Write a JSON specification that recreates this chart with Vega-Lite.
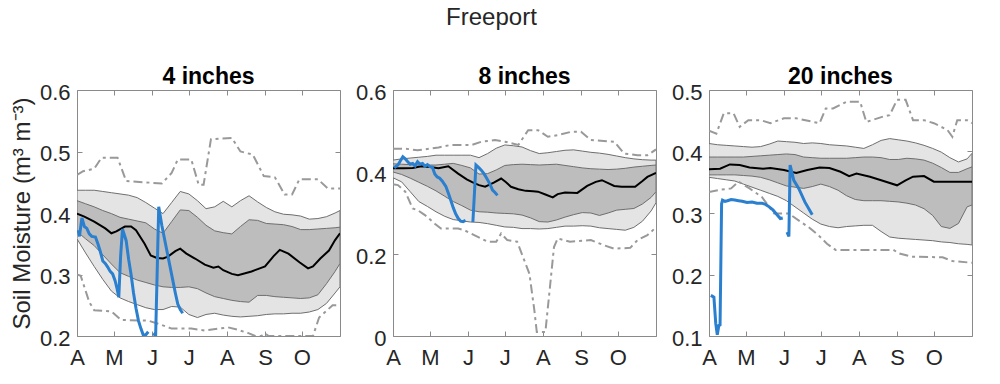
{
  "$schema": "https://vega.github.io/schema/vega-lite/v6.json",
  "padding": {"left": 9, "top": 5, "right": 5, "bottom": 5},
  "title": {"text": "Freeport", "fontSize": 24, "fontWeight": "normal", "color": "#262626", "anchor": "middle", "offset": 36},
  "bounds": "flush",
  "spacing": 53,
  "datasets": {
    "bands": [
      {"depth":4,"band":"outer","date":"2023-04-01","lo":0.358,"hi":0.437},
      {"depth":4,"band":"outer","date":"2023-04-08","lo":0.335,"hi":0.437},
      {"depth":4,"band":"outer","date":"2023-04-15","lo":0.313,"hi":0.437},
      {"depth":4,"band":"outer","date":"2023-04-22","lo":0.292,"hi":0.435},
      {"depth":4,"band":"outer","date":"2023-04-29","lo":0.273,"hi":0.433},
      {"depth":4,"band":"outer","date":"2023-05-06","lo":0.262,"hi":0.431},
      {"depth":4,"band":"outer","date":"2023-05-13","lo":0.256,"hi":0.429},
      {"depth":4,"band":"outer","date":"2023-05-20","lo":0.251,"hi":0.425},
      {"depth":4,"band":"outer","date":"2023-05-27","lo":0.246,"hi":0.417},
      {"depth":4,"band":"outer","date":"2023-06-03","lo":0.243,"hi":0.408},
      {"depth":4,"band":"outer","date":"2023-06-10","lo":0.243,"hi":0.399},
      {"depth":4,"band":"outer","date":"2023-06-17","lo":0.248,"hi":0.417},
      {"depth":4,"band":"outer","date":"2023-06-24","lo":0.247,"hi":0.435},
      {"depth":4,"band":"outer","date":"2023-07-01","lo":0.235,"hi":0.431},
      {"depth":4,"band":"outer","date":"2023-07-08","lo":0.230,"hi":0.420},
      {"depth":4,"band":"outer","date":"2023-07-15","lo":0.235,"hi":0.407},
      {"depth":4,"band":"outer","date":"2023-07-22","lo":0.237,"hi":0.410},
      {"depth":4,"band":"outer","date":"2023-07-29","lo":0.234,"hi":0.419},
      {"depth":4,"band":"outer","date":"2023-08-05","lo":0.232,"hi":0.410},
      {"depth":4,"band":"outer","date":"2023-08-12","lo":0.231,"hi":0.420},
      {"depth":4,"band":"outer","date":"2023-08-19","lo":0.232,"hi":0.428},
      {"depth":4,"band":"outer","date":"2023-08-26","lo":0.233,"hi":0.418},
      {"depth":4,"band":"outer","date":"2023-09-02","lo":0.235,"hi":0.409},
      {"depth":4,"band":"outer","date":"2023-09-09","lo":0.236,"hi":0.402},
      {"depth":4,"band":"outer","date":"2023-09-16","lo":0.236,"hi":0.398},
      {"depth":4,"band":"outer","date":"2023-09-23","lo":0.237,"hi":0.397},
      {"depth":4,"band":"outer","date":"2023-09-30","lo":0.237,"hi":0.395},
      {"depth":4,"band":"outer","date":"2023-10-07","lo":0.239,"hi":0.390},
      {"depth":4,"band":"outer","date":"2023-10-14","lo":0.243,"hi":0.391},
      {"depth":4,"band":"outer","date":"2023-10-21","lo":0.253,"hi":0.394},
      {"depth":4,"band":"outer","date":"2023-10-28","lo":0.270,"hi":0.400},
      {"depth":4,"band":"outer","date":"2023-11-01","lo":0.280,"hi":0.404},
      {"depth":4,"band":"inner","date":"2023-04-01","lo":0.370,"hi":0.420},
      {"depth":4,"band":"inner","date":"2023-04-08","lo":0.358,"hi":0.415},
      {"depth":4,"band":"inner","date":"2023-04-15","lo":0.347,"hi":0.410},
      {"depth":4,"band":"inner","date":"2023-04-22","lo":0.332,"hi":0.404},
      {"depth":4,"band":"inner","date":"2023-04-29","lo":0.317,"hi":0.399},
      {"depth":4,"band":"inner","date":"2023-05-06","lo":0.303,"hi":0.393},
      {"depth":4,"band":"inner","date":"2023-05-13","lo":0.297,"hi":0.390},
      {"depth":4,"band":"inner","date":"2023-05-20","lo":0.291,"hi":0.387},
      {"depth":4,"band":"inner","date":"2023-05-27","lo":0.287,"hi":0.384},
      {"depth":4,"band":"inner","date":"2023-06-03","lo":0.283,"hi":0.374},
      {"depth":4,"band":"inner","date":"2023-06-10","lo":0.280,"hi":0.367},
      {"depth":4,"band":"inner","date":"2023-06-17","lo":0.279,"hi":0.386},
      {"depth":4,"band":"inner","date":"2023-06-24","lo":0.279,"hi":0.405},
      {"depth":4,"band":"inner","date":"2023-07-01","lo":0.280,"hi":0.404},
      {"depth":4,"band":"inner","date":"2023-07-08","lo":0.277,"hi":0.393},
      {"depth":4,"band":"inner","date":"2023-07-15","lo":0.270,"hi":0.380},
      {"depth":4,"band":"inner","date":"2023-07-22","lo":0.264,"hi":0.371},
      {"depth":4,"band":"inner","date":"2023-07-29","lo":0.261,"hi":0.368},
      {"depth":4,"band":"inner","date":"2023-08-05","lo":0.258,"hi":0.366},
      {"depth":4,"band":"inner","date":"2023-08-12","lo":0.256,"hi":0.378},
      {"depth":4,"band":"inner","date":"2023-08-19","lo":0.255,"hi":0.389},
      {"depth":4,"band":"inner","date":"2023-08-26","lo":0.266,"hi":0.388},
      {"depth":4,"band":"inner","date":"2023-09-02","lo":0.266,"hi":0.383},
      {"depth":4,"band":"inner","date":"2023-09-09","lo":0.264,"hi":0.382},
      {"depth":4,"band":"inner","date":"2023-09-16","lo":0.263,"hi":0.381},
      {"depth":4,"band":"inner","date":"2023-09-23","lo":0.262,"hi":0.378},
      {"depth":4,"band":"inner","date":"2023-09-30","lo":0.261,"hi":0.373},
      {"depth":4,"band":"inner","date":"2023-10-07","lo":0.262,"hi":0.373},
      {"depth":4,"band":"inner","date":"2023-10-14","lo":0.267,"hi":0.374},
      {"depth":4,"band":"inner","date":"2023-10-21","lo":0.285,"hi":0.375},
      {"depth":4,"band":"inner","date":"2023-10-28","lo":0.305,"hi":0.376},
      {"depth":4,"band":"inner","date":"2023-11-01","lo":0.318,"hi":0.377},
      {"depth":8,"band":"outer","date":"2023-04-01","lo":0.386,"hi":0.429},
      {"depth":8,"band":"outer","date":"2023-04-08","lo":0.376,"hi":0.432},
      {"depth":8,"band":"outer","date":"2023-04-15","lo":0.352,"hi":0.434},
      {"depth":8,"band":"outer","date":"2023-04-22","lo":0.328,"hi":0.436},
      {"depth":8,"band":"outer","date":"2023-04-29","lo":0.316,"hi":0.438},
      {"depth":8,"band":"outer","date":"2023-05-06","lo":0.303,"hi":0.441},
      {"depth":8,"band":"outer","date":"2023-05-13","lo":0.292,"hi":0.441},
      {"depth":8,"band":"outer","date":"2023-05-20","lo":0.284,"hi":0.441},
      {"depth":8,"band":"outer","date":"2023-05-27","lo":0.281,"hi":0.441},
      {"depth":8,"band":"outer","date":"2023-06-03","lo":0.278,"hi":0.441},
      {"depth":8,"band":"outer","date":"2023-06-10","lo":0.277,"hi":0.435},
      {"depth":8,"band":"outer","date":"2023-06-17","lo":0.274,"hi":0.445},
      {"depth":8,"band":"outer","date":"2023-06-24","lo":0.270,"hi":0.458},
      {"depth":8,"band":"outer","date":"2023-07-01","lo":0.266,"hi":0.466},
      {"depth":8,"band":"outer","date":"2023-07-08","lo":0.265,"hi":0.464},
      {"depth":8,"band":"outer","date":"2023-07-15","lo":0.262,"hi":0.461},
      {"depth":8,"band":"outer","date":"2023-07-22","lo":0.262,"hi":0.452},
      {"depth":8,"band":"outer","date":"2023-07-29","lo":0.261,"hi":0.445},
      {"depth":8,"band":"outer","date":"2023-08-05","lo":0.262,"hi":0.447},
      {"depth":8,"band":"outer","date":"2023-08-12","lo":0.265,"hi":0.450},
      {"depth":8,"band":"outer","date":"2023-08-19","lo":0.268,"hi":0.453},
      {"depth":8,"band":"outer","date":"2023-08-26","lo":0.268,"hi":0.454},
      {"depth":8,"band":"outer","date":"2023-09-02","lo":0.269,"hi":0.451},
      {"depth":8,"band":"outer","date":"2023-09-09","lo":0.268,"hi":0.448},
      {"depth":8,"band":"outer","date":"2023-09-16","lo":0.264,"hi":0.446},
      {"depth":8,"band":"outer","date":"2023-09-23","lo":0.262,"hi":0.443},
      {"depth":8,"band":"outer","date":"2023-09-30","lo":0.260,"hi":0.439},
      {"depth":8,"band":"outer","date":"2023-10-07","lo":0.258,"hi":0.435},
      {"depth":8,"band":"outer","date":"2023-10-14","lo":0.265,"hi":0.432},
      {"depth":8,"band":"outer","date":"2023-10-21","lo":0.280,"hi":0.430},
      {"depth":8,"band":"outer","date":"2023-10-28","lo":0.305,"hi":0.429},
      {"depth":8,"band":"outer","date":"2023-11-01","lo":0.325,"hi":0.429},
      {"depth":8,"band":"inner","date":"2023-04-01","lo":0.400,"hi":0.420},
      {"depth":8,"band":"inner","date":"2023-04-08","lo":0.394,"hi":0.419},
      {"depth":8,"band":"inner","date":"2023-04-15","lo":0.385,"hi":0.418},
      {"depth":8,"band":"inner","date":"2023-04-22","lo":0.375,"hi":0.417},
      {"depth":8,"band":"inner","date":"2023-04-29","lo":0.365,"hi":0.417},
      {"depth":8,"band":"inner","date":"2023-05-06","lo":0.354,"hi":0.417},
      {"depth":8,"band":"inner","date":"2023-05-13","lo":0.341,"hi":0.419},
      {"depth":8,"band":"inner","date":"2023-05-20","lo":0.328,"hi":0.421},
      {"depth":8,"band":"inner","date":"2023-05-27","lo":0.318,"hi":0.416},
      {"depth":8,"band":"inner","date":"2023-06-03","lo":0.307,"hi":0.410},
      {"depth":8,"band":"inner","date":"2023-06-10","lo":0.303,"hi":0.395},
      {"depth":8,"band":"inner","date":"2023-06-17","lo":0.302,"hi":0.396},
      {"depth":8,"band":"inner","date":"2023-06-24","lo":0.300,"hi":0.405},
      {"depth":8,"band":"inner","date":"2023-07-01","lo":0.299,"hi":0.416},
      {"depth":8,"band":"inner","date":"2023-07-08","lo":0.298,"hi":0.418},
      {"depth":8,"band":"inner","date":"2023-07-15","lo":0.295,"hi":0.419},
      {"depth":8,"band":"inner","date":"2023-07-22","lo":0.288,"hi":0.418},
      {"depth":8,"band":"inner","date":"2023-07-29","lo":0.279,"hi":0.417},
      {"depth":8,"band":"inner","date":"2023-08-05","lo":0.278,"hi":0.418},
      {"depth":8,"band":"inner","date":"2023-08-12","lo":0.283,"hi":0.419},
      {"depth":8,"band":"inner","date":"2023-08-19","lo":0.290,"hi":0.416},
      {"depth":8,"band":"inner","date":"2023-08-26","lo":0.296,"hi":0.413},
      {"depth":8,"band":"inner","date":"2023-09-02","lo":0.301,"hi":0.410},
      {"depth":8,"band":"inner","date":"2023-09-09","lo":0.300,"hi":0.408},
      {"depth":8,"band":"inner","date":"2023-09-16","lo":0.294,"hi":0.407},
      {"depth":8,"band":"inner","date":"2023-09-23","lo":0.300,"hi":0.406},
      {"depth":8,"band":"inner","date":"2023-09-30","lo":0.307,"hi":0.407},
      {"depth":8,"band":"inner","date":"2023-10-07","lo":0.309,"hi":0.409},
      {"depth":8,"band":"inner","date":"2023-10-14","lo":0.311,"hi":0.412},
      {"depth":8,"band":"inner","date":"2023-10-21","lo":0.322,"hi":0.414},
      {"depth":8,"band":"inner","date":"2023-10-28","lo":0.338,"hi":0.416},
      {"depth":8,"band":"inner","date":"2023-11-01","lo":0.352,"hi":0.417},
      {"depth":20,"band":"outer","date":"2023-04-01","lo":0.358,"hi":0.413},
      {"depth":20,"band":"outer","date":"2023-04-08","lo":0.356,"hi":0.411},
      {"depth":20,"band":"outer","date":"2023-04-15","lo":0.354,"hi":0.410},
      {"depth":20,"band":"outer","date":"2023-04-22","lo":0.352,"hi":0.409},
      {"depth":20,"band":"outer","date":"2023-04-29","lo":0.347,"hi":0.408},
      {"depth":20,"band":"outer","date":"2023-05-06","lo":0.342,"hi":0.407},
      {"depth":20,"band":"outer","date":"2023-05-13","lo":0.337,"hi":0.408},
      {"depth":20,"band":"outer","date":"2023-05-20","lo":0.332,"hi":0.412},
      {"depth":20,"band":"outer","date":"2023-05-27","lo":0.327,"hi":0.417},
      {"depth":20,"band":"outer","date":"2023-06-03","lo":0.320,"hi":0.416},
      {"depth":20,"band":"outer","date":"2023-06-10","lo":0.310,"hi":0.415},
      {"depth":20,"band":"outer","date":"2023-06-17","lo":0.300,"hi":0.413},
      {"depth":20,"band":"outer","date":"2023-06-24","lo":0.290,"hi":0.414},
      {"depth":20,"band":"outer","date":"2023-07-01","lo":0.282,"hi":0.413},
      {"depth":20,"band":"outer","date":"2023-07-08","lo":0.278,"hi":0.411},
      {"depth":20,"band":"outer","date":"2023-07-15","lo":0.276,"hi":0.410},
      {"depth":20,"band":"outer","date":"2023-07-22","lo":0.278,"hi":0.409},
      {"depth":20,"band":"outer","date":"2023-07-29","lo":0.279,"hi":0.407},
      {"depth":20,"band":"outer","date":"2023-08-05","lo":0.280,"hi":0.405},
      {"depth":20,"band":"outer","date":"2023-08-12","lo":0.280,"hi":0.411},
      {"depth":20,"band":"outer","date":"2023-08-19","lo":0.270,"hi":0.418},
      {"depth":20,"band":"outer","date":"2023-08-26","lo":0.261,"hi":0.421},
      {"depth":20,"band":"outer","date":"2023-09-02","lo":0.259,"hi":0.419},
      {"depth":20,"band":"outer","date":"2023-09-09","lo":0.258,"hi":0.417},
      {"depth":20,"band":"outer","date":"2023-09-16","lo":0.257,"hi":0.414},
      {"depth":20,"band":"outer","date":"2023-09-23","lo":0.256,"hi":0.410},
      {"depth":20,"band":"outer","date":"2023-09-30","lo":0.255,"hi":0.405},
      {"depth":20,"band":"outer","date":"2023-10-07","lo":0.253,"hi":0.399},
      {"depth":20,"band":"outer","date":"2023-10-14","lo":0.252,"hi":0.390},
      {"depth":20,"band":"outer","date":"2023-10-21","lo":0.250,"hi":0.383},
      {"depth":20,"band":"outer","date":"2023-10-28","lo":0.249,"hi":0.388},
      {"depth":20,"band":"outer","date":"2023-11-01","lo":0.248,"hi":0.397},
      {"depth":20,"band":"inner","date":"2023-04-01","lo":0.362,"hi":0.391},
      {"depth":20,"band":"inner","date":"2023-04-08","lo":0.362,"hi":0.391},
      {"depth":20,"band":"inner","date":"2023-04-15","lo":0.362,"hi":0.391},
      {"depth":20,"band":"inner","date":"2023-04-22","lo":0.362,"hi":0.391},
      {"depth":20,"band":"inner","date":"2023-04-29","lo":0.361,"hi":0.391},
      {"depth":20,"band":"inner","date":"2023-05-06","lo":0.360,"hi":0.392},
      {"depth":20,"band":"inner","date":"2023-05-13","lo":0.358,"hi":0.393},
      {"depth":20,"band":"inner","date":"2023-05-20","lo":0.354,"hi":0.394},
      {"depth":20,"band":"inner","date":"2023-05-27","lo":0.349,"hi":0.395},
      {"depth":20,"band":"inner","date":"2023-06-03","lo":0.344,"hi":0.396},
      {"depth":20,"band":"inner","date":"2023-06-10","lo":0.342,"hi":0.395},
      {"depth":20,"band":"inner","date":"2023-06-17","lo":0.340,"hi":0.391},
      {"depth":20,"band":"inner","date":"2023-06-24","lo":0.343,"hi":0.390},
      {"depth":20,"band":"inner","date":"2023-07-01","lo":0.347,"hi":0.389},
      {"depth":20,"band":"inner","date":"2023-07-08","lo":0.343,"hi":0.389},
      {"depth":20,"band":"inner","date":"2023-07-15","lo":0.337,"hi":0.389},
      {"depth":20,"band":"inner","date":"2023-07-22","lo":0.328,"hi":0.389},
      {"depth":20,"band":"inner","date":"2023-07-29","lo":0.322,"hi":0.390},
      {"depth":20,"band":"inner","date":"2023-08-05","lo":0.320,"hi":0.391},
      {"depth":20,"band":"inner","date":"2023-08-12","lo":0.320,"hi":0.391},
      {"depth":20,"band":"inner","date":"2023-08-19","lo":0.320,"hi":0.390},
      {"depth":20,"band":"inner","date":"2023-08-26","lo":0.319,"hi":0.387},
      {"depth":20,"band":"inner","date":"2023-09-02","lo":0.318,"hi":0.387},
      {"depth":20,"band":"inner","date":"2023-09-09","lo":0.316,"hi":0.389},
      {"depth":20,"band":"inner","date":"2023-09-16","lo":0.313,"hi":0.388},
      {"depth":20,"band":"inner","date":"2023-09-23","lo":0.307,"hi":0.386},
      {"depth":20,"band":"inner","date":"2023-09-30","lo":0.296,"hi":0.381},
      {"depth":20,"band":"inner","date":"2023-10-07","lo":0.278,"hi":0.374},
      {"depth":20,"band":"inner","date":"2023-10-14","lo":0.275,"hi":0.366},
      {"depth":20,"band":"inner","date":"2023-10-21","lo":0.283,"hi":0.366},
      {"depth":20,"band":"inner","date":"2023-10-28","lo":0.310,"hi":0.372},
      {"depth":20,"band":"inner","date":"2023-11-01","lo":0.313,"hi":0.375}
    ],
    "lines": [
      {"depth":4,"series":"median","date":"2023-04-01","value":0.399},
      {"depth":4,"series":"median","date":"2023-04-07","value":0.394},
      {"depth":4,"series":"median","date":"2023-04-15","value":0.386},
      {"depth":4,"series":"median","date":"2023-04-24","value":0.375},
      {"depth":4,"series":"median","date":"2023-04-29","value":0.367},
      {"depth":4,"series":"median","date":"2023-05-03","value":0.370},
      {"depth":4,"series":"median","date":"2023-05-10","value":0.378},
      {"depth":4,"series":"median","date":"2023-05-15","value":0.378},
      {"depth":4,"series":"median","date":"2023-05-19","value":0.372},
      {"depth":4,"series":"median","date":"2023-05-26","value":0.350},
      {"depth":4,"series":"median","date":"2023-05-31","value":0.331},
      {"depth":4,"series":"median","date":"2023-06-05","value":0.327},
      {"depth":4,"series":"median","date":"2023-06-10","value":0.326},
      {"depth":4,"series":"median","date":"2023-06-14","value":0.329},
      {"depth":4,"series":"median","date":"2023-06-20","value":0.338},
      {"depth":4,"series":"median","date":"2023-06-24","value":0.342},
      {"depth":4,"series":"median","date":"2023-06-29","value":0.334},
      {"depth":4,"series":"median","date":"2023-07-06","value":0.326},
      {"depth":4,"series":"median","date":"2023-07-14","value":0.316},
      {"depth":4,"series":"median","date":"2023-07-21","value":0.311},
      {"depth":4,"series":"median","date":"2023-07-25","value":0.313},
      {"depth":4,"series":"median","date":"2023-07-29","value":0.307},
      {"depth":4,"series":"median","date":"2023-08-05","value":0.301},
      {"depth":4,"series":"median","date":"2023-08-10","value":0.299},
      {"depth":4,"series":"median","date":"2023-08-21","value":0.305},
      {"depth":4,"series":"median","date":"2023-09-01","value":0.313},
      {"depth":4,"series":"median","date":"2023-09-08","value":0.330},
      {"depth":4,"series":"median","date":"2023-09-13","value":0.340},
      {"depth":4,"series":"median","date":"2023-09-20","value":0.334},
      {"depth":4,"series":"median","date":"2023-09-29","value":0.320},
      {"depth":4,"series":"median","date":"2023-10-06","value":0.310},
      {"depth":4,"series":"median","date":"2023-10-10","value":0.313},
      {"depth":4,"series":"median","date":"2023-10-16","value":0.326},
      {"depth":4,"series":"median","date":"2023-10-23","value":0.339},
      {"depth":4,"series":"median","date":"2023-10-28","value":0.356},
      {"depth":4,"series":"median","date":"2023-11-01","value":0.367},
      {"depth":4,"series":"max","date":"2023-04-01","value":0.462},
      {"depth":4,"series":"max","date":"2023-04-06","value":0.468},
      {"depth":4,"series":"max","date":"2023-04-15","value":0.472},
      {"depth":4,"series":"max","date":"2023-04-21","value":0.490},
      {"depth":4,"series":"max","date":"2023-05-04","value":0.490},
      {"depth":4,"series":"max","date":"2023-05-11","value":0.452},
      {"depth":4,"series":"max","date":"2023-06-09","value":0.448},
      {"depth":4,"series":"max","date":"2023-06-17","value":0.465},
      {"depth":4,"series":"max","date":"2023-06-22","value":0.487},
      {"depth":4,"series":"max","date":"2023-07-03","value":0.487},
      {"depth":4,"series":"max","date":"2023-07-09","value":0.446},
      {"depth":4,"series":"max","date":"2023-07-13","value":0.446},
      {"depth":4,"series":"max","date":"2023-07-19","value":0.520},
      {"depth":4,"series":"max","date":"2023-08-05","value":0.522},
      {"depth":4,"series":"max","date":"2023-08-12","value":0.500},
      {"depth":4,"series":"max","date":"2023-08-22","value":0.495},
      {"depth":4,"series":"max","date":"2023-08-31","value":0.460},
      {"depth":4,"series":"max","date":"2023-09-09","value":0.458},
      {"depth":4,"series":"max","date":"2023-09-17","value":0.430},
      {"depth":4,"series":"max","date":"2023-09-23","value":0.430},
      {"depth":4,"series":"max","date":"2023-09-29","value":0.455},
      {"depth":4,"series":"max","date":"2023-10-14","value":0.455},
      {"depth":4,"series":"max","date":"2023-10-22","value":0.440},
      {"depth":4,"series":"max","date":"2023-11-01","value":0.440},
      {"depth":4,"series":"min","date":"2023-04-01","value":0.300},
      {"depth":4,"series":"min","date":"2023-04-04","value":0.298},
      {"depth":4,"series":"min","date":"2023-04-11","value":0.255},
      {"depth":4,"series":"min","date":"2023-04-15","value":0.242},
      {"depth":4,"series":"min","date":"2023-04-29","value":0.240},
      {"depth":4,"series":"min","date":"2023-05-07","value":0.226},
      {"depth":4,"series":"min","date":"2023-05-29","value":0.225},
      {"depth":4,"series":"min","date":"2023-06-06","value":0.220},
      {"depth":4,"series":"min","date":"2023-06-17","value":0.212},
      {"depth":4,"series":"min","date":"2023-07-03","value":0.212},
      {"depth":4,"series":"min","date":"2023-07-14","value":0.209},
      {"depth":4,"series":"min","date":"2023-08-02","value":0.214},
      {"depth":4,"series":"min","date":"2023-08-10","value":0.210},
      {"depth":4,"series":"min","date":"2023-08-18","value":0.205},
      {"depth":4,"series":"min","date":"2023-08-24","value":0.200},
      {"depth":4,"series":"min","date":"2023-08-29","value":0.200},
      {"depth":4,"series":"min","date":"2023-09-01","value":0.204},
      {"depth":4,"series":"min","date":"2023-09-04","value":0.200},
      {"depth":4,"series":"min","date":"2023-10-10","value":0.200},
      {"depth":4,"series":"min","date":"2023-10-15","value":0.230},
      {"depth":4,"series":"min","date":"2023-10-26","value":0.250},
      {"depth":4,"series":"min","date":"2023-11-01","value":0.250},
      {"depth":4,"series":"current","seg":1,"date":"2023-04-02","value":0.372},
      {"depth":4,"series":"current","seg":1,"date":"2023-04-03","value":0.362},
      {"depth":4,"series":"current","seg":1,"date":"2023-04-05","value":0.392},
      {"depth":4,"series":"current","seg":1,"date":"2023-04-07","value":0.378},
      {"depth":4,"series":"current","seg":1,"date":"2023-04-09","value":0.375},
      {"depth":4,"series":"current","seg":1,"date":"2023-04-11","value":0.366},
      {"depth":4,"series":"current","seg":1,"date":"2023-04-13","value":0.362},
      {"depth":4,"series":"current","seg":1,"date":"2023-04-16","value":0.361},
      {"depth":4,"series":"current","seg":1,"date":"2023-04-18","value":0.350},
      {"depth":4,"series":"current","seg":1,"date":"2023-04-20","value":0.337},
      {"depth":4,"series":"current","seg":1,"date":"2023-04-22","value":0.322},
      {"depth":4,"series":"current","seg":1,"date":"2023-04-24","value":0.318},
      {"depth":4,"series":"current","seg":1,"date":"2023-04-26","value":0.312},
      {"depth":4,"series":"current","seg":1,"date":"2023-04-28","value":0.305},
      {"depth":4,"series":"current","seg":1,"date":"2023-04-30","value":0.301},
      {"depth":4,"series":"current","seg":1,"date":"2023-05-02","value":0.290},
      {"depth":4,"series":"current","seg":1,"date":"2023-05-03T12:00Z","value":0.278},
      {"depth":4,"series":"current","seg":1,"date":"2023-05-05","value":0.263},
      {"depth":4,"series":"current","seg":1,"date":"2023-05-06T12:00Z","value":0.330},
      {"depth":4,"series":"current","seg":1,"date":"2023-05-08","value":0.374},
      {"depth":4,"series":"current","seg":1,"date":"2023-05-11","value":0.355},
      {"depth":4,"series":"current","seg":1,"date":"2023-05-13","value":0.325},
      {"depth":4,"series":"current","seg":1,"date":"2023-05-15","value":0.300},
      {"depth":4,"series":"current","seg":1,"date":"2023-05-17","value":0.270},
      {"depth":4,"series":"current","seg":1,"date":"2023-05-19","value":0.245},
      {"depth":4,"series":"current","seg":1,"date":"2023-05-21","value":0.225},
      {"depth":4,"series":"current","seg":1,"date":"2023-05-23","value":0.212},
      {"depth":4,"series":"current","seg":1,"date":"2023-05-25","value":0.201},
      {"depth":4,"series":"current","seg":1,"date":"2023-05-27","value":0.202},
      {"depth":4,"series":"current","seg":1,"date":"2023-05-29","value":0.207},
      {"depth":4,"series":"current","seg":2,"date":"2023-06-02","value":0.204},
      {"depth":4,"series":"current","seg":2,"date":"2023-06-04","value":0.201},
      {"depth":4,"series":"current","seg":2,"date":"2023-06-06T12:00Z","value":0.410},
      {"depth":4,"series":"current","seg":2,"date":"2023-06-09","value":0.380},
      {"depth":4,"series":"current","seg":2,"date":"2023-06-12","value":0.350},
      {"depth":4,"series":"current","seg":2,"date":"2023-06-15","value":0.320},
      {"depth":4,"series":"current","seg":2,"date":"2023-06-18","value":0.290},
      {"depth":4,"series":"current","seg":2,"date":"2023-06-20","value":0.270},
      {"depth":4,"series":"current","seg":2,"date":"2023-06-22","value":0.252},
      {"depth":4,"series":"current","seg":2,"date":"2023-06-24","value":0.243},
      {"depth":4,"series":"current","seg":2,"date":"2023-06-26","value":0.237},
      {"depth":8,"series":"median","date":"2023-04-01","value":0.409},
      {"depth":8,"series":"median","date":"2023-04-10","value":0.409},
      {"depth":8,"series":"median","date":"2023-04-17","value":0.410},
      {"depth":8,"series":"median","date":"2023-04-24","value":0.414},
      {"depth":8,"series":"median","date":"2023-05-01","value":0.412},
      {"depth":8,"series":"median","date":"2023-05-08","value":0.409},
      {"depth":8,"series":"median","date":"2023-05-16","value":0.414},
      {"depth":8,"series":"median","date":"2023-05-24","value":0.396},
      {"depth":8,"series":"median","date":"2023-05-31","value":0.382},
      {"depth":8,"series":"median","date":"2023-06-04","value":0.376},
      {"depth":8,"series":"median","date":"2023-06-10","value":0.368},
      {"depth":8,"series":"median","date":"2023-06-15","value":0.364},
      {"depth":8,"series":"median","date":"2023-06-22","value":0.374},
      {"depth":8,"series":"median","date":"2023-06-28","value":0.384},
      {"depth":8,"series":"median","date":"2023-07-02","value":0.375},
      {"depth":8,"series":"median","date":"2023-07-06","value":0.364},
      {"depth":8,"series":"median","date":"2023-07-12","value":0.358},
      {"depth":8,"series":"median","date":"2023-07-18","value":0.354},
      {"depth":8,"series":"median","date":"2023-07-24","value":0.353},
      {"depth":8,"series":"median","date":"2023-07-28","value":0.352},
      {"depth":8,"series":"median","date":"2023-08-03","value":0.345},
      {"depth":8,"series":"median","date":"2023-08-09","value":0.338},
      {"depth":8,"series":"median","date":"2023-08-13","value":0.346},
      {"depth":8,"series":"median","date":"2023-08-19","value":0.350},
      {"depth":8,"series":"median","date":"2023-08-29","value":0.349},
      {"depth":8,"series":"median","date":"2023-09-06","value":0.366},
      {"depth":8,"series":"median","date":"2023-09-13","value":0.376},
      {"depth":8,"series":"median","date":"2023-09-18","value":0.380},
      {"depth":8,"series":"median","date":"2023-09-28","value":0.366},
      {"depth":8,"series":"median","date":"2023-10-04","value":0.364},
      {"depth":8,"series":"median","date":"2023-10-15","value":0.364},
      {"depth":8,"series":"median","date":"2023-10-21","value":0.378},
      {"depth":8,"series":"median","date":"2023-10-25","value":0.388},
      {"depth":8,"series":"median","date":"2023-11-01","value":0.398},
      {"depth":8,"series":"max","date":"2023-04-01","value":0.457},
      {"depth":8,"series":"max","date":"2023-04-11","value":0.457},
      {"depth":8,"series":"max","date":"2023-04-21","value":0.453},
      {"depth":8,"series":"max","date":"2023-05-08","value":0.460},
      {"depth":8,"series":"max","date":"2023-05-18","value":0.466},
      {"depth":8,"series":"max","date":"2023-06-04","value":0.466},
      {"depth":8,"series":"max","date":"2023-06-12","value":0.474},
      {"depth":8,"series":"max","date":"2023-06-23","value":0.478},
      {"depth":8,"series":"max","date":"2023-07-01","value":0.474},
      {"depth":8,"series":"max","date":"2023-07-12","value":0.466},
      {"depth":8,"series":"max","date":"2023-07-20","value":0.502},
      {"depth":8,"series":"max","date":"2023-07-28","value":0.502},
      {"depth":8,"series":"max","date":"2023-08-05","value":0.486},
      {"depth":8,"series":"max","date":"2023-08-13","value":0.490},
      {"depth":8,"series":"max","date":"2023-08-24","value":0.498},
      {"depth":8,"series":"max","date":"2023-09-01","value":0.498},
      {"depth":8,"series":"max","date":"2023-09-09","value":0.478},
      {"depth":8,"series":"max","date":"2023-09-28","value":0.474},
      {"depth":8,"series":"max","date":"2023-10-06","value":0.445},
      {"depth":8,"series":"max","date":"2023-10-17","value":0.441},
      {"depth":8,"series":"max","date":"2023-10-25","value":0.441},
      {"depth":8,"series":"max","date":"2023-11-01","value":0.455},
      {"depth":8,"series":"min","date":"2023-04-01","value":0.370},
      {"depth":8,"series":"min","date":"2023-04-05","value":0.368},
      {"depth":8,"series":"min","date":"2023-04-11","value":0.352},
      {"depth":8,"series":"min","date":"2023-04-17","value":0.311},
      {"depth":8,"series":"min","date":"2023-04-21","value":0.307},
      {"depth":8,"series":"min","date":"2023-04-27","value":0.295},
      {"depth":8,"series":"min","date":"2023-05-05","value":0.274},
      {"depth":8,"series":"min","date":"2023-05-10","value":0.262},
      {"depth":8,"series":"min","date":"2023-05-24","value":0.262},
      {"depth":8,"series":"min","date":"2023-05-29","value":0.258},
      {"depth":8,"series":"min","date":"2023-06-09","value":0.242},
      {"depth":8,"series":"min","date":"2023-06-17","value":0.230},
      {"depth":8,"series":"min","date":"2023-06-24","value":0.230},
      {"depth":8,"series":"min","date":"2023-06-28","value":0.250},
      {"depth":8,"series":"min","date":"2023-07-03","value":0.234},
      {"depth":8,"series":"min","date":"2023-07-11","value":0.230},
      {"depth":8,"series":"min","date":"2023-07-17","value":0.183},
      {"depth":8,"series":"min","date":"2023-07-21","value":0.152},
      {"depth":8,"series":"min","date":"2023-07-25","value":0.063},
      {"depth":8,"series":"min","date":"2023-07-27","value":0.010},
      {"depth":8,"series":"min","date":"2023-08-03","value":0.010},
      {"depth":8,"series":"min","date":"2023-08-07","value":0.128},
      {"depth":8,"series":"min","date":"2023-08-10","value":0.217},
      {"depth":8,"series":"min","date":"2023-08-13","value":0.238},
      {"depth":8,"series":"min","date":"2023-08-23","value":0.230},
      {"depth":8,"series":"min","date":"2023-09-09","value":0.234},
      {"depth":8,"series":"min","date":"2023-09-20","value":0.221},
      {"depth":8,"series":"min","date":"2023-09-28","value":0.213},
      {"depth":8,"series":"min","date":"2023-10-11","value":0.215},
      {"depth":8,"series":"min","date":"2023-10-17","value":0.234},
      {"depth":8,"series":"min","date":"2023-10-25","value":0.246},
      {"depth":8,"series":"min","date":"2023-11-01","value":0.265},
      {"depth":8,"series":"current","seg":1,"date":"2023-04-02","value":0.410},
      {"depth":8,"series":"current","seg":1,"date":"2023-04-03","value":0.413},
      {"depth":8,"series":"current","seg":1,"date":"2023-04-05","value":0.417},
      {"depth":8,"series":"current","seg":1,"date":"2023-04-09","value":0.437},
      {"depth":8,"series":"current","seg":1,"date":"2023-04-11","value":0.432},
      {"depth":8,"series":"current","seg":1,"date":"2023-04-13","value":0.425},
      {"depth":8,"series":"current","seg":1,"date":"2023-04-15","value":0.419},
      {"depth":8,"series":"current","seg":1,"date":"2023-04-17","value":0.421},
      {"depth":8,"series":"current","seg":1,"date":"2023-04-19","value":0.415},
      {"depth":8,"series":"current","seg":1,"date":"2023-04-21","value":0.425},
      {"depth":8,"series":"current","seg":1,"date":"2023-04-23","value":0.419},
      {"depth":8,"series":"current","seg":1,"date":"2023-04-25","value":0.421},
      {"depth":8,"series":"current","seg":1,"date":"2023-04-27","value":0.414},
      {"depth":8,"series":"current","seg":1,"date":"2023-04-29","value":0.418},
      {"depth":8,"series":"current","seg":1,"date":"2023-05-01","value":0.413},
      {"depth":8,"series":"current","seg":1,"date":"2023-05-03","value":0.412},
      {"depth":8,"series":"current","seg":1,"date":"2023-05-05","value":0.395},
      {"depth":8,"series":"current","seg":1,"date":"2023-05-07","value":0.388},
      {"depth":8,"series":"current","seg":1,"date":"2023-05-09","value":0.385},
      {"depth":8,"series":"current","seg":1,"date":"2023-05-11","value":0.378},
      {"depth":8,"series":"current","seg":1,"date":"2023-05-14","value":0.365},
      {"depth":8,"series":"current","seg":1,"date":"2023-05-17","value":0.340},
      {"depth":8,"series":"current","seg":1,"date":"2023-05-20","value":0.313},
      {"depth":8,"series":"current","seg":1,"date":"2023-05-22","value":0.298},
      {"depth":8,"series":"current","seg":1,"date":"2023-05-24","value":0.287},
      {"depth":8,"series":"current","seg":1,"date":"2023-05-26","value":0.280},
      {"depth":8,"series":"current","seg":1,"date":"2023-05-28","value":0.279},
      {"depth":8,"series":"current","seg":1,"date":"2023-05-30","value":0.282},
      {"depth":8,"series":"current","seg":2,"date":"2023-06-05","value":0.278},
      {"depth":8,"series":"current","seg":2,"date":"2023-06-07T12:00Z","value":0.417},
      {"depth":8,"series":"current","seg":2,"date":"2023-06-10","value":0.410},
      {"depth":8,"series":"current","seg":2,"date":"2023-06-12","value":0.404},
      {"depth":8,"series":"current","seg":2,"date":"2023-06-14","value":0.396},
      {"depth":8,"series":"current","seg":2,"date":"2023-06-16","value":0.386},
      {"depth":8,"series":"current","seg":2,"date":"2023-06-19","value":0.370},
      {"depth":8,"series":"current","seg":2,"date":"2023-06-21","value":0.356},
      {"depth":8,"series":"current","seg":2,"date":"2023-06-23","value":0.350},
      {"depth":8,"series":"current","seg":2,"date":"2023-06-25","value":0.343},
      {"depth":20,"series":"median","date":"2023-04-01","value":0.371},
      {"depth":20,"series":"median","date":"2023-04-10","value":0.372},
      {"depth":20,"series":"median","date":"2023-04-18","value":0.379},
      {"depth":20,"series":"median","date":"2023-04-26","value":0.378},
      {"depth":20,"series":"median","date":"2023-05-04","value":0.374},
      {"depth":20,"series":"median","date":"2023-05-15","value":0.372},
      {"depth":20,"series":"median","date":"2023-05-21","value":0.373},
      {"depth":20,"series":"median","date":"2023-06-01","value":0.370},
      {"depth":20,"series":"median","date":"2023-06-11","value":0.365},
      {"depth":20,"series":"median","date":"2023-06-20","value":0.370},
      {"depth":20,"series":"median","date":"2023-06-30","value":0.374},
      {"depth":20,"series":"median","date":"2023-07-08","value":0.373},
      {"depth":20,"series":"median","date":"2023-07-17","value":0.367},
      {"depth":20,"series":"median","date":"2023-07-24","value":0.360},
      {"depth":20,"series":"median","date":"2023-07-30","value":0.364},
      {"depth":20,"series":"median","date":"2023-08-10","value":0.359},
      {"depth":20,"series":"median","date":"2023-08-21","value":0.352},
      {"depth":20,"series":"median","date":"2023-09-01","value":0.345},
      {"depth":20,"series":"median","date":"2023-09-08","value":0.353},
      {"depth":20,"series":"median","date":"2023-09-14","value":0.359},
      {"depth":20,"series":"median","date":"2023-09-23","value":0.360},
      {"depth":20,"series":"median","date":"2023-10-01","value":0.351},
      {"depth":20,"series":"median","date":"2023-11-01","value":0.351},
      {"depth":20,"series":"max","date":"2023-04-01","value":0.434},
      {"depth":20,"series":"max","date":"2023-04-07","value":0.429},
      {"depth":20,"series":"max","date":"2023-04-13","value":0.462},
      {"depth":20,"series":"max","date":"2023-04-21","value":0.462},
      {"depth":20,"series":"max","date":"2023-04-26","value":0.440},
      {"depth":20,"series":"max","date":"2023-05-03","value":0.451},
      {"depth":20,"series":"max","date":"2023-05-13","value":0.451},
      {"depth":20,"series":"max","date":"2023-05-21","value":0.446},
      {"depth":20,"series":"max","date":"2023-06-01","value":0.454},
      {"depth":20,"series":"max","date":"2023-06-11","value":0.454},
      {"depth":20,"series":"max","date":"2023-06-25","value":0.448},
      {"depth":20,"series":"max","date":"2023-06-30","value":0.446},
      {"depth":20,"series":"max","date":"2023-07-05","value":0.470},
      {"depth":20,"series":"max","date":"2023-07-11","value":0.470},
      {"depth":20,"series":"max","date":"2023-07-22","value":0.481},
      {"depth":20,"series":"max","date":"2023-08-02","value":0.481},
      {"depth":20,"series":"max","date":"2023-08-07","value":0.448},
      {"depth":20,"series":"max","date":"2023-08-21","value":0.457},
      {"depth":20,"series":"max","date":"2023-08-26","value":0.459},
      {"depth":20,"series":"max","date":"2023-09-01","value":0.484},
      {"depth":20,"series":"max","date":"2023-09-08","value":0.484},
      {"depth":20,"series":"max","date":"2023-09-14","value":0.451},
      {"depth":20,"series":"max","date":"2023-09-23","value":0.451},
      {"depth":20,"series":"max","date":"2023-10-01","value":0.446},
      {"depth":20,"series":"max","date":"2023-10-12","value":0.435},
      {"depth":20,"series":"max","date":"2023-10-16","value":0.424},
      {"depth":20,"series":"max","date":"2023-10-20","value":0.451},
      {"depth":20,"series":"max","date":"2023-10-28","value":0.451},
      {"depth":20,"series":"max","date":"2023-11-01","value":0.446},
      {"depth":20,"series":"min","date":"2023-04-01","value":0.334},
      {"depth":20,"series":"min","date":"2023-04-11","value":0.338},
      {"depth":20,"series":"min","date":"2023-04-19","value":0.340},
      {"depth":20,"series":"min","date":"2023-04-25","value":0.351},
      {"depth":20,"series":"min","date":"2023-05-04","value":0.340},
      {"depth":20,"series":"min","date":"2023-05-14","value":0.326},
      {"depth":20,"series":"min","date":"2023-05-24","value":0.299},
      {"depth":20,"series":"min","date":"2023-06-05","value":0.299},
      {"depth":20,"series":"min","date":"2023-06-15","value":0.285},
      {"depth":20,"series":"min","date":"2023-06-21","value":0.277},
      {"depth":20,"series":"min","date":"2023-06-29","value":0.264},
      {"depth":20,"series":"min","date":"2023-07-06","value":0.250},
      {"depth":20,"series":"min","date":"2023-07-13","value":0.240},
      {"depth":20,"series":"min","date":"2023-08-29","value":0.240},
      {"depth":20,"series":"min","date":"2023-09-03","value":0.234},
      {"depth":20,"series":"min","date":"2023-09-13","value":0.229},
      {"depth":20,"series":"min","date":"2023-10-08","value":0.228},
      {"depth":20,"series":"min","date":"2023-10-16","value":0.222},
      {"depth":20,"series":"min","date":"2023-11-01","value":0.219},
      {"depth":20,"series":"current","seg":1,"date":"2023-04-02T12:00Z","value":0.166},
      {"depth":20,"series":"current","seg":1,"date":"2023-04-05","value":0.163},
      {"depth":20,"series":"current","seg":1,"date":"2023-04-06T12:00Z","value":0.120},
      {"depth":20,"series":"current","seg":1,"date":"2023-04-07T18:00Z","value":0.102},
      {"depth":20,"series":"current","seg":1,"date":"2023-04-09","value":0.117},
      {"depth":20,"series":"current","seg":1,"date":"2023-04-10","value":0.118},
      {"depth":20,"series":"current","seg":1,"date":"2023-04-11T06:00Z","value":0.315},
      {"depth":20,"series":"current","seg":1,"date":"2023-04-12","value":0.321},
      {"depth":20,"series":"current","seg":1,"date":"2023-04-14","value":0.319},
      {"depth":20,"series":"current","seg":1,"date":"2023-04-16","value":0.320},
      {"depth":20,"series":"current","seg":1,"date":"2023-04-19","value":0.322},
      {"depth":20,"series":"current","seg":1,"date":"2023-04-22","value":0.321},
      {"depth":20,"series":"current","seg":1,"date":"2023-04-25","value":0.320},
      {"depth":20,"series":"current","seg":1,"date":"2023-04-28","value":0.319},
      {"depth":20,"series":"current","seg":1,"date":"2023-05-02","value":0.317},
      {"depth":20,"series":"current","seg":1,"date":"2023-05-06","value":0.318},
      {"depth":20,"series":"current","seg":1,"date":"2023-05-10","value":0.316},
      {"depth":20,"series":"current","seg":1,"date":"2023-05-14","value":0.316},
      {"depth":20,"series":"current","seg":1,"date":"2023-05-17","value":0.314},
      {"depth":20,"series":"current","seg":1,"date":"2023-05-20","value":0.310},
      {"depth":20,"series":"current","seg":1,"date":"2023-05-23","value":0.305},
      {"depth":20,"series":"current","seg":1,"date":"2023-05-26","value":0.298},
      {"depth":20,"series":"current","seg":1,"date":"2023-05-29","value":0.291},
      {"depth":20,"series":"current","seg":1,"date":"2023-05-31","value":0.292},
      {"depth":20,"series":"current","seg":2,"date":"2023-06-03T12:00Z","value":0.269},
      {"depth":20,"series":"current","seg":2,"date":"2023-06-05","value":0.262},
      {"depth":20,"series":"current","seg":2,"date":"2023-06-06","value":0.378},
      {"depth":20,"series":"current","seg":2,"date":"2023-06-09","value":0.353},
      {"depth":20,"series":"current","seg":2,"date":"2023-06-13","value":0.340},
      {"depth":20,"series":"current","seg":2,"date":"2023-06-18","value":0.318},
      {"depth":20,"series":"current","seg":2,"date":"2023-06-24","value":0.297}
    ]
  },
  "hconcat": [
    {
      "width": 263, "height": 246,
      "title": {"text": "4 inches"},
      "layer": [
        {"data": {"name": "bands"}, "transform": [{"filter": "datum.depth == 4 && datum.band == 'outer'"}],
         "mark": {"type": "area", "fill": "#e4e4e4", "stroke": "#6e6e6e", "strokeWidth": 1, "clip": true},
         "encoding": {
           "x": {"field": "date", "type": "temporal", "scale": {"type": "utc", "domain": [{"year": 2023, "month": 4, "date": 1, "utc": true}, {"year": 2023, "month": 11, "date": 1, "utc": true}]},
                 "axis": {"orient": "bottom", "title": null, "values": [{"year": 2023, "month": 4, "date": 1, "utc": true}, {"year": 2023, "month": 5, "date": 1, "utc": true}, {"year": 2023, "month": 6, "date": 1, "utc": true}, {"year": 2023, "month": 7, "date": 1, "utc": true}, {"year": 2023, "month": 8, "date": 1, "utc": true}, {"year": 2023, "month": 9, "date": 1, "utc": true}, {"year": 2023, "month": 10, "date": 1, "utc": true}], "labelExpr": "substring(utcFormat(datum.value, '%b'), 0, 1)", "labelPadding": 16}},
           "y": {"field": "lo", "type": "quantitative", "scale": {"domain": [0.2, 0.6], "nice": false, "zero": false},
                 "axis": {"orient": "left", "title": "Soil Moisture (m³ m⁻³)", "titlePadding": 5, "values": [0.2, 0.3, 0.4, 0.5, 0.6], "format": ".1~f", "labelPadding": 12, "labelOffset": 2}},
           "y2": {"field": "hi"}
         }},
        {"data": {"name": "bands"}, "transform": [{"filter": "datum.depth == 4 && datum.band == 'inner'"}],
         "mark": {"type": "area", "fill": "#bdbdbd", "stroke": "#6e6e6e", "strokeWidth": 1, "clip": true},
         "encoding": {
           "x": {"field": "date", "type": "temporal", "axis": {"orient": "top", "title": null, "labels": false, "values": [{"year": 2023, "month": 4, "date": 1, "utc": true}, {"year": 2023, "month": 5, "date": 1, "utc": true}, {"year": 2023, "month": 6, "date": 1, "utc": true}, {"year": 2023, "month": 7, "date": 1, "utc": true}, {"year": 2023, "month": 8, "date": 1, "utc": true}, {"year": 2023, "month": 9, "date": 1, "utc": true}, {"year": 2023, "month": 10, "date": 1, "utc": true}]}},
           "y": {"field": "lo", "type": "quantitative", "scale": {"domain": [0.2, 0.6], "nice": false, "zero": false}, "axis": {"orient": "right", "title": null, "labels": false, "values": [0.2, 0.3, 0.4, 0.5, 0.6]}},
           "y2": {"field": "hi"}
         }},
        {"data": {"name": "lines"}, "transform": [{"filter": "datum.depth == 4 && (datum.series == 'max' || datum.series == 'min')"}],
         "mark": {"type": "line", "color": "#999999", "strokeWidth": 2, "strokeDash": [9, 4, 3, 4], "clip": true},
         "encoding": {"x": {"field": "date", "type": "temporal", "axis": null}, "y": {"field": "value", "type": "quantitative", "scale": {"domain": [0.2, 0.6], "nice": false, "zero": false}, "axis": null}, "detail": {"field": "series"}}},
        {"data": {"name": "lines"}, "transform": [{"filter": "datum.depth == 4 && datum.series == 'median'"}],
         "mark": {"type": "line", "color": "#000000", "strokeWidth": 2, "clip": true},
         "encoding": {"x": {"field": "date", "type": "temporal", "axis": null}, "y": {"field": "value", "type": "quantitative", "scale": {"domain": [0.2, 0.6], "nice": false, "zero": false}, "axis": null}}},
        {"data": {"name": "lines"}, "transform": [{"filter": "datum.depth == 4 && datum.series == 'current'"}],
         "mark": {"type": "line", "color": "#2a7fcf", "strokeWidth": 3, "clip": true},
         "encoding": {"x": {"field": "date", "type": "temporal", "axis": null}, "y": {"field": "value", "type": "quantitative", "scale": {"domain": [0.2, 0.6], "nice": false, "zero": false}, "axis": null}, "detail": {"field": "seg"}}}
      ],
      "resolve": {"axis": {"x": "independent", "y": "independent"}}
    },
    {
      "width": 263, "height": 246,
      "title": {"text": "8 inches"},
      "layer": [
        {"data": {"name": "bands"}, "transform": [{"filter": "datum.depth == 8 && datum.band == 'outer'"}],
         "mark": {"type": "area", "fill": "#e4e4e4", "stroke": "#6e6e6e", "strokeWidth": 1, "clip": true},
         "encoding": {
           "x": {"field": "date", "type": "temporal", "scale": {"type": "utc", "domain": [{"year": 2023, "month": 4, "date": 1, "utc": true}, {"year": 2023, "month": 11, "date": 1, "utc": true}]},
                 "axis": {"orient": "bottom", "title": null, "values": [{"year": 2023, "month": 4, "date": 1, "utc": true}, {"year": 2023, "month": 5, "date": 1, "utc": true}, {"year": 2023, "month": 6, "date": 1, "utc": true}, {"year": 2023, "month": 7, "date": 1, "utc": true}, {"year": 2023, "month": 8, "date": 1, "utc": true}, {"year": 2023, "month": 9, "date": 1, "utc": true}, {"year": 2023, "month": 10, "date": 1, "utc": true}], "labelExpr": "substring(utcFormat(datum.value, '%b'), 0, 1)", "labelPadding": 16}},
           "y": {"field": "lo", "type": "quantitative", "scale": {"domain": [0, 0.6], "nice": false, "zero": false},
                 "axis": {"orient": "left", "title": null, "values": [0, 0.2, 0.4, 0.6], "format": ".1~f", "labelPadding": 12, "labelOffset": 2}},
           "y2": {"field": "hi"}
         }},
        {"data": {"name": "bands"}, "transform": [{"filter": "datum.depth == 8 && datum.band == 'inner'"}],
         "mark": {"type": "area", "fill": "#bdbdbd", "stroke": "#6e6e6e", "strokeWidth": 1, "clip": true},
         "encoding": {
           "x": {"field": "date", "type": "temporal", "axis": {"orient": "top", "title": null, "labels": false, "values": [{"year": 2023, "month": 4, "date": 1, "utc": true}, {"year": 2023, "month": 5, "date": 1, "utc": true}, {"year": 2023, "month": 6, "date": 1, "utc": true}, {"year": 2023, "month": 7, "date": 1, "utc": true}, {"year": 2023, "month": 8, "date": 1, "utc": true}, {"year": 2023, "month": 9, "date": 1, "utc": true}, {"year": 2023, "month": 10, "date": 1, "utc": true}]}},
           "y": {"field": "lo", "type": "quantitative", "scale": {"domain": [0, 0.6], "nice": false, "zero": false}, "axis": {"orient": "right", "title": null, "labels": false, "values": [0, 0.2, 0.4, 0.6]}},
           "y2": {"field": "hi"}
         }},
        {"data": {"name": "lines"}, "transform": [{"filter": "datum.depth == 8 && (datum.series == 'max' || datum.series == 'min')"}],
         "mark": {"type": "line", "color": "#999999", "strokeWidth": 2, "strokeDash": [9, 4, 3, 4], "clip": true},
         "encoding": {"x": {"field": "date", "type": "temporal", "axis": null}, "y": {"field": "value", "type": "quantitative", "scale": {"domain": [0, 0.6], "nice": false, "zero": false}, "axis": null}, "detail": {"field": "series"}}},
        {"data": {"name": "lines"}, "transform": [{"filter": "datum.depth == 8 && datum.series == 'median'"}],
         "mark": {"type": "line", "color": "#000000", "strokeWidth": 2, "clip": true},
         "encoding": {"x": {"field": "date", "type": "temporal", "axis": null}, "y": {"field": "value", "type": "quantitative", "scale": {"domain": [0, 0.6], "nice": false, "zero": false}, "axis": null}}},
        {"data": {"name": "lines"}, "transform": [{"filter": "datum.depth == 8 && datum.series == 'current'"}],
         "mark": {"type": "line", "color": "#2a7fcf", "strokeWidth": 3, "clip": true},
         "encoding": {"x": {"field": "date", "type": "temporal", "axis": null}, "y": {"field": "value", "type": "quantitative", "scale": {"domain": [0, 0.6], "nice": false, "zero": false}, "axis": null}, "detail": {"field": "seg"}}}
      ],
      "resolve": {"axis": {"x": "independent", "y": "independent"}}
    },
    {
      "width": 263, "height": 246,
      "title": {"text": "20 inches"},
      "layer": [
        {"data": {"name": "bands"}, "transform": [{"filter": "datum.depth == 20 && datum.band == 'outer'"}],
         "mark": {"type": "area", "fill": "#e4e4e4", "stroke": "#6e6e6e", "strokeWidth": 1, "clip": true},
         "encoding": {
           "x": {"field": "date", "type": "temporal", "scale": {"type": "utc", "domain": [{"year": 2023, "month": 4, "date": 1, "utc": true}, {"year": 2023, "month": 11, "date": 1, "utc": true}]},
                 "axis": {"orient": "bottom", "title": null, "values": [{"year": 2023, "month": 4, "date": 1, "utc": true}, {"year": 2023, "month": 5, "date": 1, "utc": true}, {"year": 2023, "month": 6, "date": 1, "utc": true}, {"year": 2023, "month": 7, "date": 1, "utc": true}, {"year": 2023, "month": 8, "date": 1, "utc": true}, {"year": 2023, "month": 9, "date": 1, "utc": true}, {"year": 2023, "month": 10, "date": 1, "utc": true}], "labelExpr": "substring(utcFormat(datum.value, '%b'), 0, 1)", "labelPadding": 16}},
           "y": {"field": "lo", "type": "quantitative", "scale": {"domain": [0.1, 0.5], "nice": false, "zero": false},
                 "axis": {"orient": "left", "title": null, "values": [0.1, 0.2, 0.3, 0.4, 0.5], "format": ".1~f", "labelPadding": 12, "labelOffset": 2}},
           "y2": {"field": "hi"}
         }},
        {"data": {"name": "bands"}, "transform": [{"filter": "datum.depth == 20 && datum.band == 'inner'"}],
         "mark": {"type": "area", "fill": "#bdbdbd", "stroke": "#6e6e6e", "strokeWidth": 1, "clip": true},
         "encoding": {
           "x": {"field": "date", "type": "temporal", "axis": {"orient": "top", "title": null, "labels": false, "values": [{"year": 2023, "month": 4, "date": 1, "utc": true}, {"year": 2023, "month": 5, "date": 1, "utc": true}, {"year": 2023, "month": 6, "date": 1, "utc": true}, {"year": 2023, "month": 7, "date": 1, "utc": true}, {"year": 2023, "month": 8, "date": 1, "utc": true}, {"year": 2023, "month": 9, "date": 1, "utc": true}, {"year": 2023, "month": 10, "date": 1, "utc": true}]}},
           "y": {"field": "lo", "type": "quantitative", "scale": {"domain": [0.1, 0.5], "nice": false, "zero": false}, "axis": {"orient": "right", "title": null, "labels": false, "values": [0.1, 0.2, 0.3, 0.4, 0.5]}},
           "y2": {"field": "hi"}
         }},
        {"data": {"name": "lines"}, "transform": [{"filter": "datum.depth == 20 && (datum.series == 'max' || datum.series == 'min')"}],
         "mark": {"type": "line", "color": "#999999", "strokeWidth": 2, "strokeDash": [9, 4, 3, 4], "clip": true},
         "encoding": {"x": {"field": "date", "type": "temporal", "axis": null}, "y": {"field": "value", "type": "quantitative", "scale": {"domain": [0.1, 0.5], "nice": false, "zero": false}, "axis": null}, "detail": {"field": "series"}}},
        {"data": {"name": "lines"}, "transform": [{"filter": "datum.depth == 20 && datum.series == 'median'"}],
         "mark": {"type": "line", "color": "#000000", "strokeWidth": 2, "clip": true},
         "encoding": {"x": {"field": "date", "type": "temporal", "axis": null}, "y": {"field": "value", "type": "quantitative", "scale": {"domain": [0.1, 0.5], "nice": false, "zero": false}, "axis": null}}},
        {"data": {"name": "lines"}, "transform": [{"filter": "datum.depth == 20 && datum.series == 'current'"}],
         "mark": {"type": "line", "color": "#2a7fcf", "strokeWidth": 3, "clip": true},
         "encoding": {"x": {"field": "date", "type": "temporal", "axis": null}, "y": {"field": "value", "type": "quantitative", "scale": {"domain": [0.1, 0.5], "nice": false, "zero": false}, "axis": null}, "detail": {"field": "seg"}}}
      ],
      "resolve": {"axis": {"x": "independent", "y": "independent"}}
    }
  ],
  "config": {
    "font": "Liberation Sans",
    "background": "#ffffff",
    "view": {"stroke": "#8a8a8a", "strokeWidth": 1},
    "axis": {"domain": false, "grid": false, "ticks": true, "tickColor": "#8a8a8a", "tickSize": -5, "tickWidth": 1,
             "labelFont": "Liberation Sans", "labelFontSize": 22, "labelColor": "#262626", "labelFlush": false, "labelOverlap": false, "labelBound": false,
             "titleFont": "Liberation Sans", "titleFontSize": 24, "titleFontWeight": "normal", "titleColor": "#262626"},
    "title": {"font": "Liberation Sans", "fontSize": 23, "fontWeight": "bold", "color": "#000000", "offset": -8}
  }
}
